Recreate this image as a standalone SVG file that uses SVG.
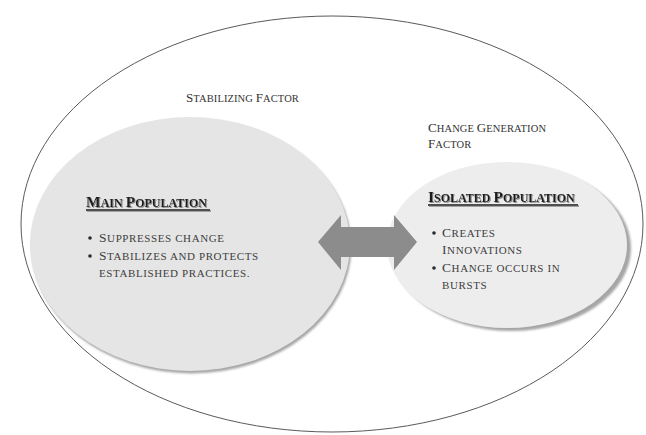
<svg xmlns="http://www.w3.org/2000/svg" width="646" height="435" viewBox="0 0 646 435">
  <defs>
    <filter id="soft" x="-10%" y="-10%" width="120%" height="120%">
      <feGaussianBlur stdDeviation="1"/>
    </filter>
    <filter id="ts" x="-5%" y="-30%" width="110%" height="160%">
      <feDropShadow dx="1" dy="1" stdDeviation="0.6" flood-color="#8a8a8a"/>
    </filter>
    <style>
      .txt { font-family: "Liberation Serif", "Times New Roman", serif; }
      .lbl { font-size: 10.5px; fill: #333333; letter-spacing: 0.1px; }
      .lbl .cap { font-size: 13px; }
      .head { font-size: 12px; font-weight: bold; fill: #1e1e1e; }
      .head .cap { font-size: 15.5px; }
      .body { font-size: 11px; fill: #3e3e3e; letter-spacing: 0.6px; }
      .body .cap { font-size: 13.5px; }
      .ul { stroke: #1e1e1e; stroke-width: 1.4; }
      .dot { fill: #2a2a2a; }
      .shadow { fill: #a6a6a6; }
    </style>
  </defs>
  <rect x="0" y="0" width="646" height="435" fill="#ffffff"/>

  <g id="outer-boundary">
    <ellipse cx="332" cy="224" rx="311" ry="208" fill="none" stroke="#5a5a5a" stroke-width="1"/>
  </g>

  <g id="stabilizing-factor" class="txt">
    <text class="lbl" x="186" y="102"><tspan class="cap">S</tspan>TABILIZING <tspan class="cap">F</tspan>ACTOR</text>
  </g>

  <g id="change-generation-factor" class="txt">
    <text class="lbl" x="428" y="132"><tspan class="cap">C</tspan>HANGE <tspan class="cap">G</tspan>ENERATION</text>
    <text class="lbl" x="428" y="148"><tspan class="cap">F</tspan>ACTOR</text>
  </g>

  <g id="main-population" class="txt">
    <ellipse class="shadow" cx="191.5" cy="246.5" rx="160" ry="127" filter="url(#soft)"/>
    <ellipse cx="190" cy="244" rx="160" ry="127" fill="#e5e5e5"/>
    <g filter="url(#ts)">
      <text class="head" x="86" y="207"><tspan class="cap">M</tspan>AIN <tspan class="cap">P</tspan>OPULATION</text>
      <line class="ul" x1="86" y1="210" x2="210" y2="210"/>
    </g>
    <circle class="dot" cx="90" cy="238" r="1.8"/>
    <circle class="dot" cx="90" cy="256" r="1.8"/>
    <text class="body" x="99" y="242"><tspan class="cap">S</tspan>UPPRESSES CHANGE</text>
    <text class="body" x="99" y="260"><tspan class="cap">S</tspan>TABILIZES AND PROTECTS</text>
    <text class="body" x="99" y="277">ESTABLISHED PRACTICES.</text>
  </g>

  <g id="isolated-population" class="txt">
    <ellipse class="shadow" cx="511" cy="248" rx="120" ry="83" filter="url(#soft)"/>
    <ellipse cx="507" cy="245" rx="120" ry="83" fill="#ededed"/>
    <g filter="url(#ts)">
      <text class="head" x="428" y="202"><tspan class="cap">I</tspan>SOLATED <tspan class="cap">P</tspan>OPULATION</text>
      <line class="ul" x1="428" y1="205" x2="578" y2="205"/>
    </g>
    <circle class="dot" cx="434" cy="233" r="1.8"/>
    <circle class="dot" cx="434" cy="268" r="1.8"/>
    <text class="body" x="442" y="237"><tspan class="cap">C</tspan>REATES</text>
    <text class="body" x="442" y="254"><tspan class="cap">I</tspan>NNOVATIONS</text>
    <text class="body" x="442" y="272"><tspan class="cap">C</tspan>HANGE OCCURS IN</text>
    <text class="body" x="442" y="289">BURSTS</text>
  </g>

  <g id="connectors">
    <polygon points="318,242 341,215 341,227 394,227 394,215 417,242 394,270 394,257 341,257 341,270" fill="#8c8c8c"/>
  </g>
</svg>
